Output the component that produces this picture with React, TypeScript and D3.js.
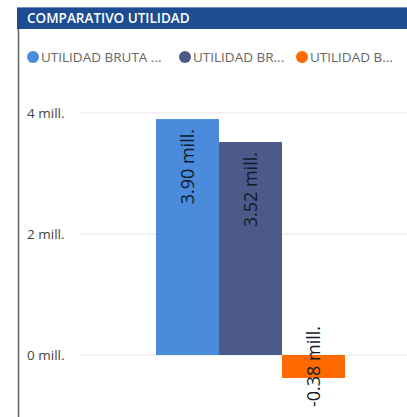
import React, { useEffect, useRef } from 'react'
import * as d3 from 'd3'

const title = 'COMPARATIVO UTILIDAD'
const series = ['UTILIDAD BRUTA ...', 'UTILIDAD BR...', 'UTILIDAD B...']
const values = [3.9, 3.52, -0.38]
const colors = ['#4a8bdb', '#4b5a8b', '#ff6a00']
const yTicks = [0, 2, 4]

export default function App(): React.ReactElement {
  const chartRef = useRef<HTMLDivElement>(null)

  useEffect(() => {
    const width = 407
    const height = 417
    const font = "'Segoe UI', 'Open Sans', sans-serif"

    const data = series.map((name, i) => ({ name, value: values[i], color: colors[i] }))

    const y = d3.scaleLinear().domain([0, 4]).range([355, 113])
    const x = d3.scaleBand().domain(series).range([156, 345]).padding(0)

    d3.select(chartRef.current).select('svg').remove()

    const svg = d3
      .select(chartRef.current)
      .append('svg')
      .attr('width', width)
      .attr('height', height)
      .attr('viewBox', `0 0 ${width} ${height}`)
      .attr('style', `position:absolute;left:0;top:0;background:#fff;font-family:${font}`)

    // header
    svg.append('rect').attr('x', 17).attr('y', 7).attr('width', width - 17).attr('height', 22).attr('fill', '#1d4c93')
    svg.append('rect').attr('x', 17).attr('y', 7).attr('width', width - 17).attr('height', 1).attr('fill', '#6f8fbf')
    svg
      .append('text')
      .attr('x', 27)
      .attr('y', 23)
      .attr('fill', '#fff')
      .attr('font-size', 13.5)
      .attr('font-weight', 600)
      .text(title)

    // left border
    svg.append('line').attr('x1', 18.5).attr('x2', 18.5).attr('y1', 29).attr('y2', height).attr('stroke', '#666').attr('stroke-width', 1.5)

    // legend
    const legendX = [33, 185, 302]
    const legend = svg
      .append('g')
      .selectAll('g')
      .data(data)
      .join('g')
      .attr('transform', (_, i) => `translate(${legendX[i]},57)`)
    legend.append('circle').attr('r', 6).attr('fill', (d) => d.color)
    legend
      .append('text')
      .attr('x', 8)
      .attr('dy', '0.35em')
      .attr('fill', '#666')
      .attr('font-size', 13.5)
      .text((d) => d.name)

    // grid + axis
    const grid = svg.append('g')
    grid
      .selectAll('line')
      .data(yTicks)
      .join('line')
      .attr('x1', 80)
      .attr('x2', width)
      .attr('y1', (d) => y(d))
      .attr('y2', (d) => y(d))
      .attr('stroke', '#e6e6e6')
    grid
      .selectAll('text')
      .data(yTicks)
      .join('text')
      .attr('x', 27)
      .attr('y', (d) => y(d))
      .attr('dy', '0.35em')
      .attr('fill', '#444')
      .attr('font-size', 13.5)
      .text((d) => `${d} mill.`)

    // bars
    svg
      .append('g')
      .selectAll('rect')
      .data(data)
      .join('rect')
      .attr('x', (d) => x(d.name)!)
      .attr('y', (d) => y(Math.max(0, d.value)))
      .attr('width', x.bandwidth())
      .attr('height', (d) => Math.abs(y(d.value) - y(0)))
      .attr('fill', (d) => d.color)

    // labels
    svg
      .append('g')
      .selectAll('text')
      .data(data)
      .join('text')
      .attr('transform', (d) => {
        const cx = x(d.name)! + x.bandwidth() / 2
        const cy = d.value >= 0 ? y(d.value) + 10 : (y(0) + y(d.value)) / 2
        return `translate(${cx},${cy}) rotate(-90)`
      })
      .attr('text-anchor', (d) => (d.value >= 0 ? 'end' : 'middle'))
      .attr('dy', '0.35em')
      .attr('fill', '#111a26')
      .attr('font-size', 18)
      .text((d) => `${d.value.toFixed(2)} mill.`)
  }, [])

  return <div ref={chartRef}></div>
}
